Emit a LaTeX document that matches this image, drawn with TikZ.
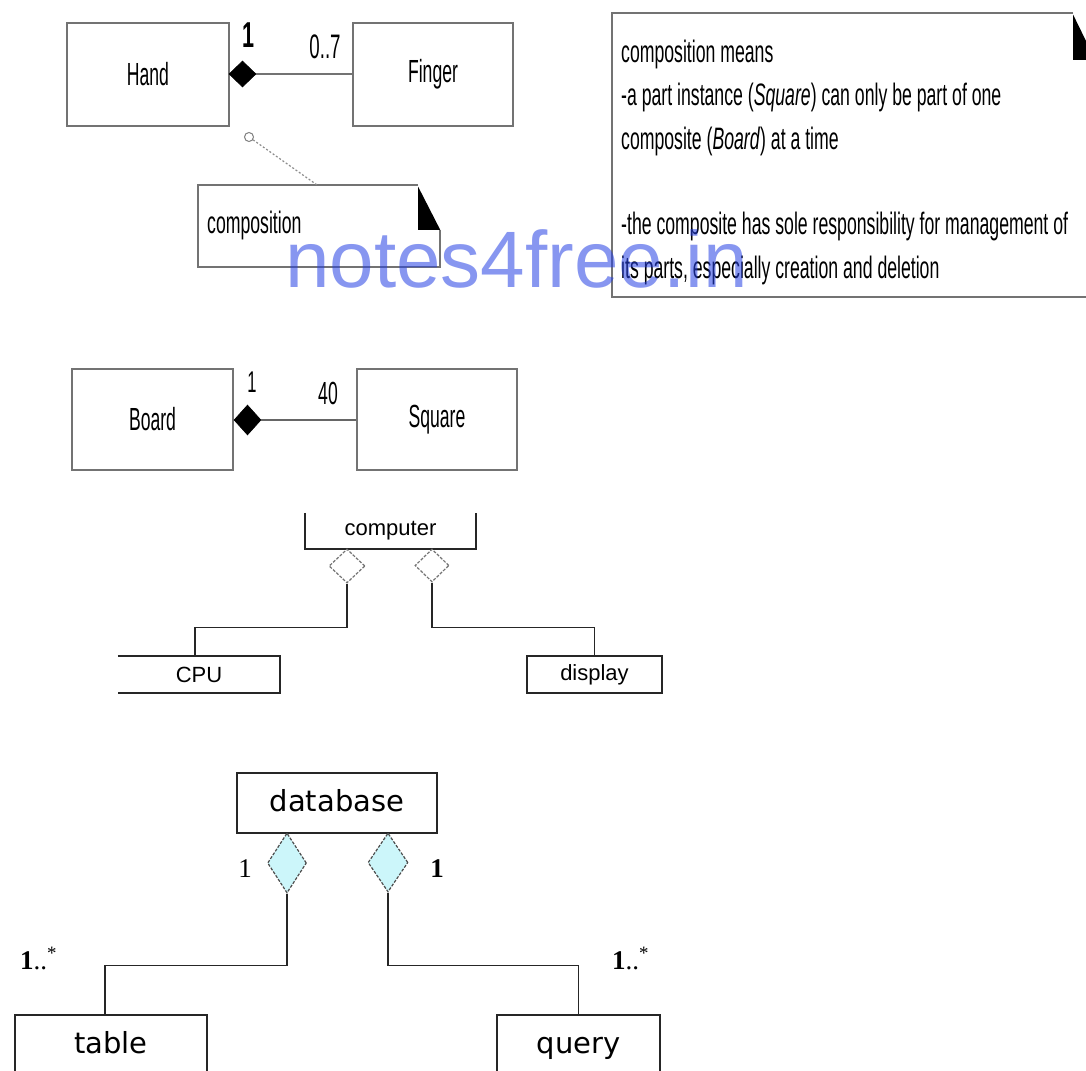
\documentclass[tikz,border=0pt]{standalone}
\usepackage{graphicx}
\usepackage{fontspec}
\setmainfont{Liberation Sans}
\newfontfamily\serifnum{Liberation Serif}
\newfontfamily\dvs{DejaVu Sans}
\usetikzlibrary{shapes.geometric,calc}
\definecolor{wmblue}{RGB}{37,64,228}
\definecolor{aggfill}{RGB}{204,246,250}
\newcommand{\nrw}[3]{{\fontsize{#1}{#1}\selectfont\scalebox{#2}[1]{#3}}}
\begin{document}
\begin{tikzpicture}[x=1pt,y=-1pt,
  graybox/.style={draw=black!55, line width=1.6pt, inner sep=0pt},
  blackbox/.style={draw=black!85, line width=1.6pt, inner sep=0pt},
  dbbox/.style={draw=black!85, line width=1.6pt, inner sep=0pt, text height=22pt, text depth=6pt, font=\dvs\fontsize{29}{29}\selectfont},
  plain/.style={inner sep=0pt},
  compdia/.style={diamond, fill=black, draw=black, line width=0.6pt, inner sep=0pt},
  hollowdia/.style={diamond, draw=black!55, line width=1.2pt, dash pattern=on 3pt off 1.5pt, inner sep=0pt},
  aggdia/.style={diamond, fill=aggfill, draw=black!70, line width=1.2pt, dash pattern=on 3pt off 1.5pt, inner sep=0pt},
  grayline/.style={draw=black!55, line width=1.6pt},
  conn/.style={draw=black!85, line width=1.6pt}
]
\clip (0,0) rectangle (1086,1070);
\fill[white] (0,0) rectangle (1086,1070);

% ---------- Hand / Finger ----------
\node[graybox, minimum width=162pt, minimum height=103pt] (hand) at (148,74.5) {\nrw{32}{0.55}{Hand}};
\node[graybox, minimum width=160pt, minimum height=103pt] (finger) at (433,74.5) {\nrw{32}{0.55}{Finger}};
\node[compdia, minimum width=27pt, minimum height=26pt] (hd) at (242.5,74) {};
\draw[draw=black!55, line width=2.4pt] (hd.east) -- (finger.west |- hd.east);
\node[plain] (h1) at (249,35) {\nrw{36}{0.6}{\textbf{1}}};
\node[plain] (h07) at (325,47) {\nrw{34}{0.55}{0..7}};

% small note
\node[circle, draw=black!50, line width=1pt, minimum size=9pt, inner sep=0pt] (circ) at (249,137) {};
\node[plain, minimum width=242pt, minimum height=82pt] (cnote) at (319,226) {};
\node[plain, anchor=west] (ctext) at (207,225) {\nrw{31}{0.57}{composition}};
\draw[grayline] ($(cnote.north east)+(-22,0)$) -- (cnote.north west) -- (cnote.south west) -- (cnote.south east) -- ($(cnote.north east)+(0,45)$);
\fill[black] ($(cnote.north east)+(-22,2)$) -- ($(cnote.north east)+(0,45)$) -- ($(cnote.north east)+(-22,45)$) -- cycle;
\coordinate (cnotetop) at ($(cnote.north west)+(119,0)$);
\draw[draw=black!45, line width=1.2pt, dash pattern=on 2pt off 2pt] (circ) -- (cnotetop);

% big note
\node[plain, minimum width=483pt, minimum height=284pt] (bnote) at (853.5,155) {};
\draw[grayline] ($(bnote.north east)+(-22,0)$) -- (bnote.north west) -- (bnote.south west) -- (bnote.south east) -- ($(bnote.north east)+(0,47)$);
\fill[black] ($(bnote.north east)+(-22,2)$) -- ($(bnote.north east)+(0,47)$) -- ($(bnote.north east)+(-22,47)$) -- cycle;
\node[plain, anchor=base west] (l1) at (621,63) {\nrw{31}{0.57}{composition means}};
\node[plain, anchor=base west] (l2) at (621,106) {\nrw{31}{0.57}{-a part instance (\textit{Square}) can only be part of one}};
\node[plain, anchor=base west] (l3) at (621,149) {\nrw{31}{0.57}{composite (\textit{Board}) at a time}};
\node[plain, anchor=base west] (l4) at (621,234) {\nrw{31}{0.57}{-the composite has sole responsibility for management of}};
\node[plain, anchor=base west] (l5) at (621,278) {\nrw{31}{0.57}{its parts, especially creation and deletion}};

% ---------- Board / Square ----------
\node[graybox, minimum width=161pt, minimum height=101pt] (board) at (152.5,419.5) {\nrw{32}{0.55}{Board}};
\node[graybox, minimum width=160pt, minimum height=101pt] (square) at (437,419.5) {\nrw{32}{0.55}{Square}};
\node[compdia, minimum width=27pt, minimum height=30pt] (bd) at (247.5,420) {};
\draw[draw=black!60, line width=1.6pt] (bd.east) -- (square.west |- bd.east);
\node[plain] (b1) at (252,382) {\nrw{30}{0.55}{1}};
\node[plain] (b40) at (328,393) {\nrw{32}{0.55}{40}};

% ---------- computer ----------
\node[plain, minimum width=171pt, minimum height=36pt] (computer) at (390.5,531) {\fontsize{22}{22}\selectfont computer};
\draw[conn] (computer.north west) -- (computer.south west) -- (computer.south east) -- (computer.north east);
\node[plain, minimum width=162pt, minimum height=37pt] (cpu) at (199,674.5) {\fontsize{22}{22}\selectfont CPU};
\draw[conn] (cpu.north west) -- (cpu.north east) -- (cpu.south east) -- (cpu.south west);
\node[blackbox, minimum width=135pt, minimum height=37pt] (display) at (594.5,674.5) {\fontsize{22}{22}\selectfont display};
\node[hollowdia, minimum width=36pt, minimum height=34pt] (cd1) at (347,566) {};
\node[hollowdia, minimum width=34pt, minimum height=33pt] (cd2) at (432,565.5) {};
\draw[conn] (cd1.south) -- ++(0,44) -| ([xshift=-4pt]cpu.north);
\draw[conn] (cd2.south) -- ++(0,45) -| (display.north);

% ---------- database ----------
\node[dbbox, minimum width=200pt, minimum height=60pt] (database) at (337,803) {database};
\node[dbbox, minimum width=192pt, minimum height=60pt] (table) at (111,1045) {table};
\node[dbbox, minimum width=163pt, minimum height=60pt] (query) at (578.5,1045) {query};
\node[aggdia, minimum width=39pt, minimum height=60pt] (dd1) at (287,863) {};
\node[aggdia, minimum width=40pt, minimum height=59pt] (dd2) at (388,862.5) {};
\draw[conn] (dd1.south) -- ++(0,72) -| ([xshift=-6pt]table.north);
\draw[conn] (dd2.south) -- ++(0,73) -| (query.north);
\node[plain] (m1) at (245,869) {\serifnum\fontsize{27}{27}\selectfont 1};
\node[plain] (m2) at (437,869) {\serifnum\fontsize{27}{27}\selectfont\bfseries 1};
\node[plain, anchor=base west] (m3) at (20,969) {\serifnum\fontsize{27}{27}\selectfont\textbf{1}..\textsuperscript{*}};
\node[plain, anchor=base west] (m4) at (612,969) {\serifnum\fontsize{27}{27}\selectfont\textbf{1}..\textsuperscript{*}};

% ---------- watermark ----------
\node[plain, anchor=base west, text=wmblue, text opacity=0.55] (wm) at (285,287) {\fontsize{80}{80}\selectfont notes4free.in};
\end{tikzpicture}
\end{document}
